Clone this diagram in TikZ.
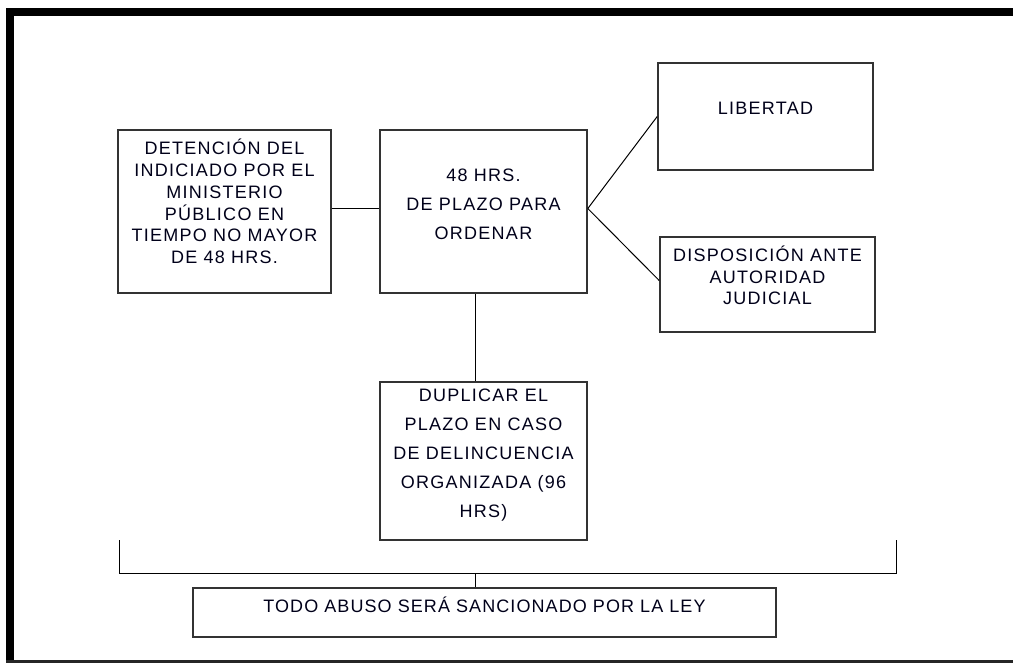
\documentclass[tikz,border=0pt]{standalone}
\usepackage{fontspec}
\setmainfont{Liberation Sans}[LetterSpace=7]
\newfontfamily\footfont{Liberation Sans}[LetterSpace=6]
\begin{document}
\begin{tikzpicture}[x=1pt,y=-1pt,
  box/.style={draw=black!80, line width=1.6pt, rectangle, inner sep=0pt},
  txt/.style={align=center, inner sep=0pt, text=black!90!blue},
  tight/.style={font=\fontsize{18}{21.7}\selectfont},
  loose/.style={font=\fontsize{18}{29}\selectfont},
  conn/.style={draw=black, line width=1pt}]
\useasboundingbox (0,0) rectangle (1013,665);
% frame
\fill[black] (6,8) rectangle (14,662);
\fill[black] (6,8) rectangle (1013,16);
\draw[black!85, line width=2.5pt] (6,661.5) -- (1013,661.5);
% boxes
\node[box, minimum width=213pt, minimum height=163pt] (A) at (224.5,211.5) {};
\node[box, minimum width=207pt, minimum height=163pt] (B) at (483.5,211.5) {};
\node[box, minimum width=215pt, minimum height=107pt] (C) at (765.5,116.5) {};
\node[box, minimum width=215pt, minimum height=95pt] (D) at (767.5,284.5) {};
\node[box, minimum width=207pt, minimum height=158pt] (E) at (483.5,461) {};
\node[box, minimum width=583pt, minimum height=49pt] (F) at (484.5,612.5) {};
% texts
\node[txt, tight] (At) at ([yshift=10pt]A.center) {DETENCIÓN DEL\\INDICIADO POR EL\\MINISTERIO\\PÚBLICO EN\\TIEMPO NO MAYOR\\DE 48 HRS.};
\node[txt, loose] (Bt) at ([yshift=7pt]B.center) {48 HRS.\\DE PLAZO PARA\\ORDENAR};
\node[txt, tight] (Ct) at ([yshift=8pt]C.center) {LIBERTAD};
\node[txt, tight] (Dt) at ([yshift=9pt]D.center) {DISPOSICIÓN ANTE\\AUTORIDAD\\JUDICIAL};
\node[txt, loose] (Et) at ([yshift=6pt]E.center) {DUPLICAR EL\\PLAZO EN CASO\\DE DELINCUENCIA\\ORGANIZADA (96\\HRS)};
\node[txt, font=\footfont\fontsize{18}{22}\selectfont] (Ft) at ([yshift=8pt]F.center) {TODO ABUSO SERÁ SANCIONADO POR LA LEY};
% connectors
\draw[conn] ([yshift=3pt]A.east) -- ([yshift=3pt]B.west);
\draw[conn] ([yshift=3pt]B.east) -- (C.west);
\draw[conn] ([yshift=3pt]B.east) -- ([yshift=4pt]D.west);
\draw[conn] ([xshift=-8pt]B.south) -- ([xshift=-8pt]E.north);
\coordinate (bl) at (119,540);
\coordinate (br) at (896,540);
\coordinate (bm) at (475,573);
\draw[conn] (bl) -- (bl |- bm) -- (br |- bm) -- (br);
\draw[conn] (bm) -- ([xshift=-9.5pt]F.north);
\end{tikzpicture}
\end{document}
